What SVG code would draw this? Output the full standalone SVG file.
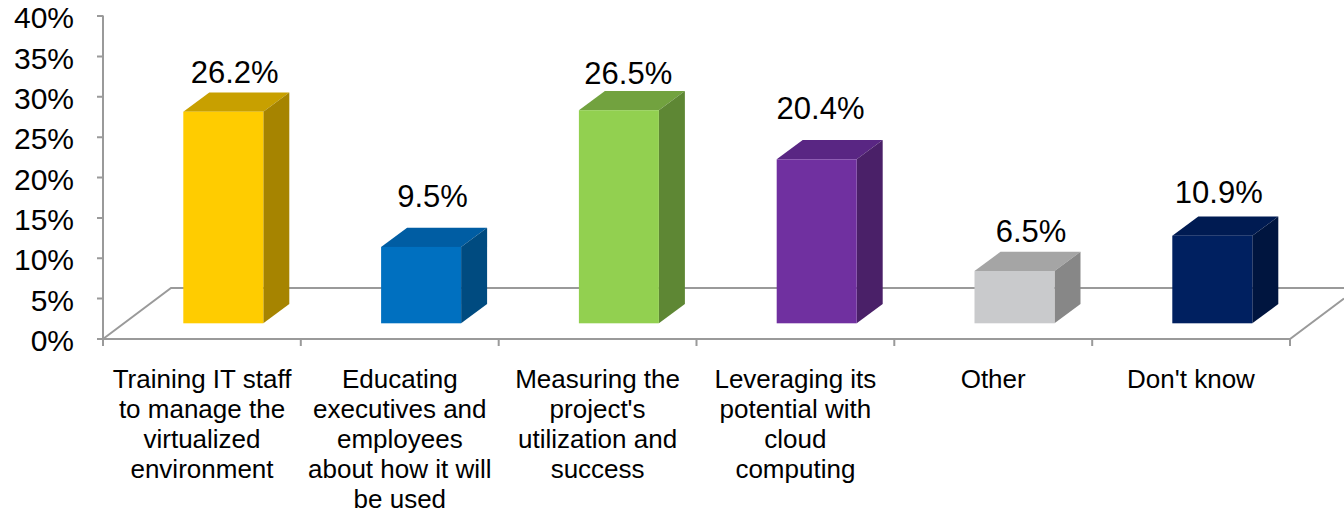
<svg xmlns="http://www.w3.org/2000/svg" width="1344" height="512" viewBox="0 0 1344 512">
<style>
.ax{stroke:#9a9a9a;stroke-width:2;fill:none}
.yl{font-family:"Liberation Sans",Arial,sans-serif;font-size:30px;fill:#000;text-anchor:end}
.vl{font-family:"Liberation Sans",Arial,sans-serif;font-size:31px;fill:#000;text-anchor:middle}
.cl{font-family:"Liberation Sans",Arial,sans-serif;font-size:26px;fill:#000;text-anchor:middle}
</style>
<rect width="1344" height="512" fill="#fff"/>
<g id="floor">
<path class="ax" d="M103 339 L171 288 L1344 288"/>
<path class="ax" d="M103 339 L1290 339 L1344 298.5"/>
</g>
<g id="y-axis">
<path class="ax" d="M103 15.5 V339"/>
<path class="ax" d="M97 339H103M97 298.6H103M97 258.3H103M97 217.9H103M97 177.6H103M97 137.2H103M97 96.8H103M97 56.5H103M97 16.1H103"/>
<text class="yl" x="74" y="351">0%</text>
<text class="yl" x="74" y="310.6">5%</text>
<text class="yl" x="74" y="270.3">10%</text>
<text class="yl" x="74" y="229.9">15%</text>
<text class="yl" x="74" y="189.6">20%</text>
<text class="yl" x="74" y="149.2">25%</text>
<text class="yl" x="74" y="108.8">30%</text>
<text class="yl" x="74" y="68.5">35%</text>
<text class="yl" x="74" y="28.1">40%</text>
</g>
<g id="x-axis">
<path class="ax" d="M103 339V346M300.8 339V346M498.7 339V346M696.5 339V346M894.3 339V346M1092.2 339V346M1290 339V346"/>
</g>
<g id="bar-training">
<polygon points="183.3,111.7 209.3,92.5 289.3,92.5 263.3,111.7" fill="#C8A000"/>
<polygon points="263.3,111.7 289.3,92.5 289.3,304 263.3,323.3" fill="#A68400"/>
<rect x="183.3" y="111.7" width="80" height="211.6" fill="#FFCC00"/>
<text class="vl" x="234.7" y="83.3">26.2%</text>
<text class="cl" x="202" y="388">Training IT staff</text>
<text class="cl" x="202" y="418">to manage the</text>
<text class="cl" x="202" y="448">virtualized</text>
<text class="cl" x="202" y="478">environment</text>
</g>
<g id="bar-educating">
<polygon points="381.1,246.9 407.1,227.7 487.1,227.7 461.1,246.9" fill="#005DA3"/>
<polygon points="461.1,246.9 487.1,227.7 487.1,304 461.1,323.3" fill="#004B80"/>
<rect x="381.1" y="246.9" width="80" height="76.4" fill="#0070C0"/>
<text class="vl" x="432.5" y="207.3">9.5%</text>
<text class="cl" x="399.8" y="388">Educating</text>
<text class="cl" x="399.8" y="418">executives and</text>
<text class="cl" x="399.8" y="448">employees</text>
<text class="cl" x="399.8" y="478">about how it will</text>
<text class="cl" x="399.8" y="508">be used</text>
</g>
<g id="bar-measuring">
<polygon points="578.9,110.2 604.9,91 684.9,91 658.9,110.2" fill="#72A23F"/>
<polygon points="658.9,110.2 684.9,91 684.9,304 658.9,323.3" fill="#5E8734"/>
<rect x="578.9" y="110.2" width="80" height="213.1" fill="#92D050"/>
<text class="vl" x="628.3" y="84">26.5%</text>
<text class="cl" x="597.6" y="388">Measuring the</text>
<text class="cl" x="597.6" y="418">project's</text>
<text class="cl" x="597.6" y="448">utilization and</text>
<text class="cl" x="597.6" y="478">success</text>
</g>
<g id="bar-leveraging">
<polygon points="776.7,159.3 802.7,140.1 882.7,140.1 856.7,159.3" fill="#592683"/>
<polygon points="856.7,159.3 882.7,140.1 882.7,304 856.7,323.3" fill="#4A2068"/>
<rect x="776.7" y="159.3" width="80" height="164" fill="#7030A0"/>
<text class="vl" x="820.5" y="119.3">20.4%</text>
<text class="cl" x="795.4" y="388">Leveraging its</text>
<text class="cl" x="795.4" y="418">potential with</text>
<text class="cl" x="795.4" y="448">cloud</text>
<text class="cl" x="795.4" y="478">computing</text>
</g>
<g id="bar-other">
<polygon points="974.5,271 1000.5,251.8 1080.5,251.8 1054.5,271" fill="#A5A5A5"/>
<polygon points="1054.5,271 1080.5,251.8 1080.5,304 1054.5,323.3" fill="#878787"/>
<rect x="974.5" y="271" width="80" height="52.3" fill="#C9CACC"/>
<text class="vl" x="1031" y="241.7">6.5%</text>
<text class="cl" x="993.2" y="388">Other</text>
</g>
<g id="bar-dontknow">
<polygon points="1172.3,235.7 1198.3,216.5 1278.3,216.5 1252.3,235.7" fill="#001B52"/>
<polygon points="1252.3,235.7 1278.3,216.5 1278.3,304 1252.3,323.3" fill="#00153F"/>
<rect x="1172.3" y="235.7" width="80" height="87.6" fill="#002060"/>
<text class="vl" x="1218.8" y="203.3">10.9%</text>
<text class="cl" x="1191" y="388">Don't know</text>
</g>
</svg>
